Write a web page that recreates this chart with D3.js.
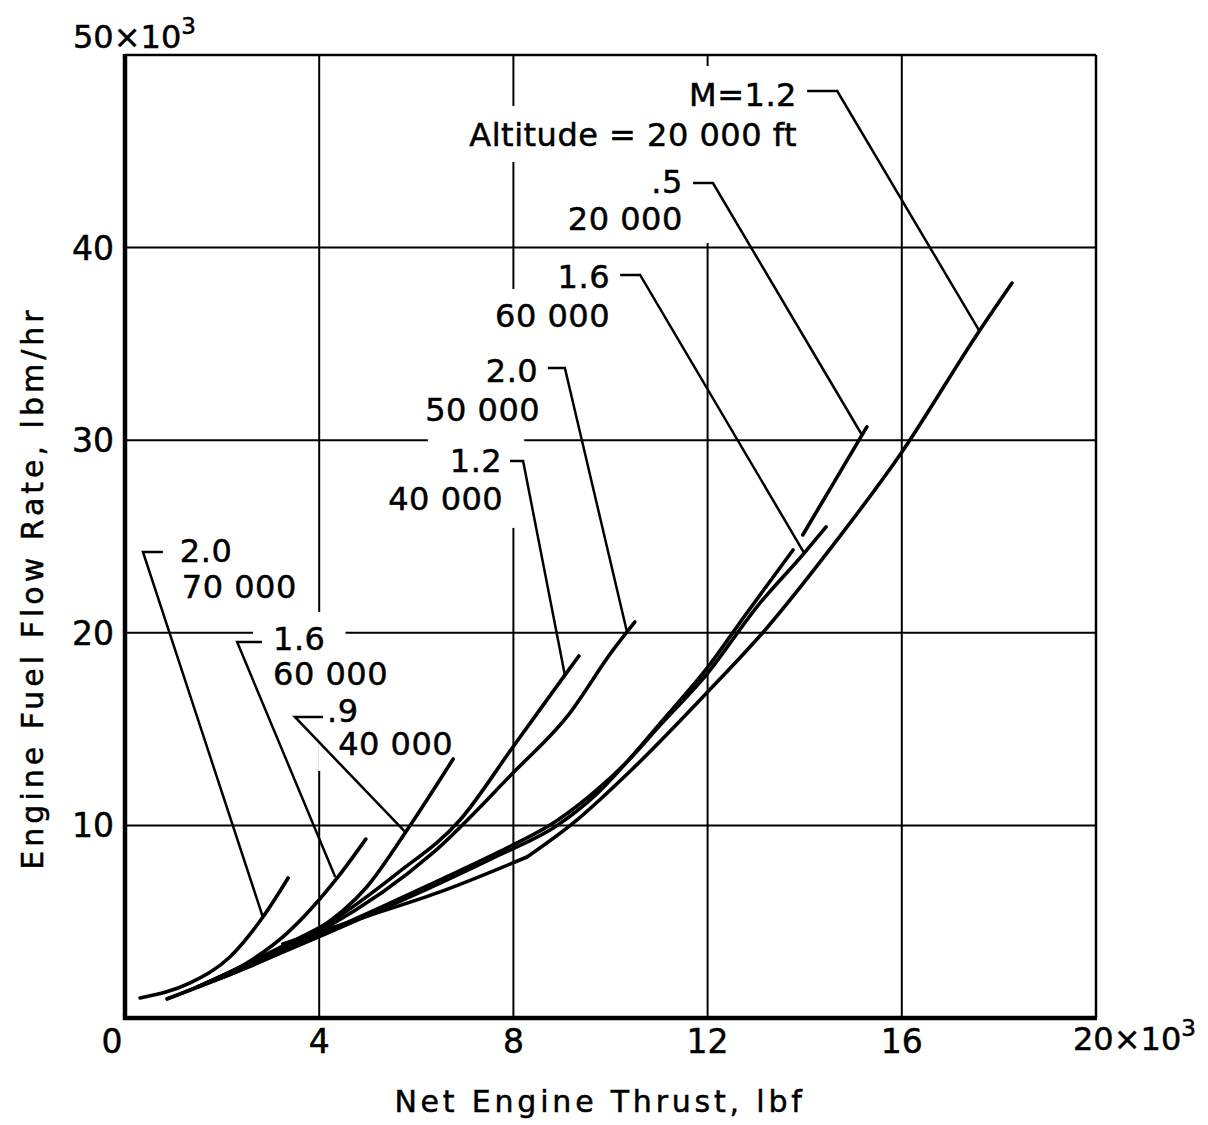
<!DOCTYPE html>
<html>
<head>
<meta charset="utf-8">
<script src="https://cdn.jsdelivr.net/npm/d3@7"></script>
<style>
  body { margin: 0; background: #fff; }
  svg { display: block; font-family: "DejaVu Sans", sans-serif; }
</style>
</head>
<body>
<svg width="1208" height="1125"></svg>
<script>
// thrust in 10^3 lbf, fuel flow in 10^3 lbm/hr
const xTicks = [0, 4, 8, 12, 16];
const yTicks = [10, 20, 30, 40];

// M = 1.2, 20 000 ft: dry part, then the afterburning part from the corner
const m12alt20ThrustDry = [3.25, 5.0, 6.49, 8.28];
const m12alt20FuelDry   = [3.85, 5.3, 6.55, 8.36];
const m12alt20ThrustAb  = [8.28, 9.23, 10.46, 11.99, 13.22, 14.6, 15.96, 17.57, 18.27];
const m12alt20FuelAb    = [8.36, 10.12, 12.95, 16.9, 20.25, 24.6, 29.23, 35.57, 38.16];

const m05alt20ThrustLow  = [0.87, 2.0, 3.0, 4.16, 5.3, 6.49, 7.7, 8.9, 9.7, 10.34, 11.02, 12.0, 12.8, 13.76];
const m05alt20FuelLow    = [0.99, 2.1, 3.15, 4.4, 5.65, 7.0, 8.45, 10.0, 11.6, 13.3, 15.3, 18.2, 21.0, 24.3];
const m05alt20ThrustHigh = [13.96, 14.6, 15.28];
const m05alt20FuelHigh   = [25.08, 27.8, 30.69];

const m16alt60aThrust = [2.0, 3.0, 4.16, 5.3, 6.49, 7.7, 8.9, 9.7, 10.34, 11.02, 12.0, 13.0, 13.99, 14.44];
const m16alt60aFuel   = [2.1, 3.2, 4.48, 5.78, 7.17, 8.62, 10.25, 11.8, 13.3, 15.2, 17.9, 21.3, 24.14, 25.5];

const m20alt50Thrust = [1.5, 2.8, 4.16, 6.34, 7.99, 9.10, 10.05, 10.5];
const m20alt50Fuel   = [1.62, 3.1, 4.72, 8.57, 12.72, 15.63, 19.1, 20.56];

const m12alt40Thrust = [1.5, 2.5, 3.3, 4.28, 5.6, 6.9, 7.99, 9.06, 9.35];
const m12alt40Fuel   = [1.62, 2.8, 3.8, 5.09, 7.5, 10.28, 14.07, 17.8, 18.8];

const m09alt40Thrust = [1.5, 2.5, 3.3, 4.02, 4.98, 5.81, 6.76];
const m09alt40Fuel   = [1.62, 2.6, 3.55, 4.67, 6.8, 9.76, 13.45];

const m16alt60bThrust = [0.87, 1.61, 2.51, 3.34, 4.37, 4.96];
const m16alt60bFuel   = [1.0, 1.75, 2.86, 4.41, 7.27, 9.29];

const m20alt70Thrust = [0.31, 1.34, 2.16, 2.84, 3.36];
const m20alt70Fuel   = [1.04, 1.82, 3.17, 5.24, 7.27];

const curves = [
  [m12alt20ThrustDry, m12alt20FuelDry],
  [m12alt20ThrustAb, m12alt20FuelAb],
  [m05alt20ThrustLow, m05alt20FuelLow],
  [m05alt20ThrustHigh, m05alt20FuelHigh],
  [m16alt60aThrust, m16alt60aFuel],
  [m20alt50Thrust, m20alt50Fuel],
  [m12alt40Thrust, m12alt40Fuel],
  [m09alt40Thrust, m09alt40Fuel],
  [m16alt60bThrust, m16alt60bFuel],
  [m20alt70Thrust, m20alt70Fuel]
];

// curve labels: text lines, anchor, leader (stub + pointer) in data units, mask padding
const labels = [
  { lines: [['M=1.2', 13.84, 47.35], ['Altitude = 20 000 ft', 13.84, 45.28]], anchor: 'end',
    leader: [[14.05, 48.13], [14.67, 48.13], [17.61, 35.62]], pad: 22, padY: [10, 8] },
  { lines: [['.5', 11.49, 42.83], ['20 000', 11.49, 40.91]], anchor: 'end',
    leader: [[11.70, 43.35], [12.11, 43.35], [15.18, 30.27]], pad: 30, padY: [8, 5] },
  { lines: [['1.6', 9.99, 37.90], ['60 000', 9.99, 35.88]], anchor: 'end',
    leader: [[10.20, 38.58], [10.61, 38.58], [13.99, 24.14]], pad: 20, padY: [8, 10] },
  { lines: [['2.0', 8.51, 33.02], ['50 000', 8.55, 31.00]], anchor: 'end',
    leader: [[8.71, 33.75], [9.06, 33.75], [10.34, 20.04]], pad: 20, padY: [8, 8] },
  { lines: [['1.2', 7.77, 28.35], ['40 000', 7.79, 26.38]], anchor: 'end',
    leader: [[7.93, 28.92], [8.20, 28.92], [9.06, 17.81]], pad: 22, padY: [8, 10] },
  { lines: [['2.0', 1.13, 23.68], ['70 000', 1.17, 21.81]], anchor: 'start',
    leader: [[0.78, 24.20], [0.37, 24.20], [2.84, 5.24]], pad: 18, padY: [8, 8] },
  { lines: [['1.6', 3.05, 19.11], ['60 000', 3.05, 17.29]], anchor: 'start',
    leader: [[2.82, 19.52], [2.31, 19.52], [4.33, 7.32]], pad: 20, padY: [8, 8] },
  { lines: [['.9', 4.16, 15.36], ['40 000', 4.39, 13.66]], anchor: 'start',
    leader: [[4.08, 15.63], [3.50, 15.63], [5.77, 9.66]], pad: 20, padY: [8, 8] }
];

const svg = d3.select('svg');
const x = d3.scaleLinear().domain([0, 20]).range([125, 1096]);
const y = d3.scaleLinear().domain([0, 50]).range([1018, 55]);

// Grid
const grid = svg.append('g').attr('stroke', '#000').attr('stroke-width', 2);
grid.selectAll('.vx').data(xTicks.slice(1)).join('line')
  .attr('x1', d => x(d)).attr('x2', d => x(d))
  .attr('y1', y(0)).attr('y2', y(50));
grid.selectAll('.hy').data(yTicks).join('line')
  .attr('y1', d => y(d)).attr('y2', d => y(d))
  .attr('x1', x(0)).attr('x2', x(20));

const maskLayer = svg.append('g');

// Frame
svg.append('line').attr('x1', x(0)).attr('x2', x(20)).attr('y1', y(50)).attr('y2', y(50))
  .attr('stroke', '#000').attr('stroke-width', 2.5);
svg.append('line').attr('x1', x(20)).attr('x2', x(20)).attr('y1', y(50)).attr('y2', y(0))
  .attr('stroke', '#000').attr('stroke-width', 2.5);
svg.append('line').attr('x1', x(0)).attr('x2', x(0)).attr('y1', y(50) - 1).attr('y2', y(0) + 2)
  .attr('stroke', '#000').attr('stroke-width', 4.5);
svg.append('line').attr('x1', x(0) - 2).attr('x2', x(20) + 1).attr('y1', y(0)).attr('y2', y(0))
  .attr('stroke', '#000').attr('stroke-width', 4.5);

const heavy = sel => sel.attr('stroke', '#000').attr('stroke-width', 0.5);

// Tick labels
const tickFont = 33;
svg.selectAll('.xt').data(xTicks).join('text')
  .attr('x', d => d === 0 ? x(0) - 13 : x(d))
  .attr('y', 1053)
  .attr('text-anchor', 'middle')
  .attr('font-size', tickFont)
  .call(heavy)
  .text(d => d);
svg.selectAll('.yt').data(yTicks).join('text')
  .attr('x', x(0) - 11)
  .attr('y', d => y(d) + 12)
  .attr('text-anchor', 'end')
  .attr('font-size', tickFont)
  .call(heavy)
  .text(d => d);

function powerLabel(px, py, base) {
  const t = svg.append('text').attr('x', px).attr('y', py).attr('font-size', 32).call(heavy);
  t.append('tspan').text(base + '×10');
  t.append('tspan').attr('dy', -14).attr('font-size', 23).text('3');
}
powerLabel(x(20) - 23, 1050, '20');
powerLabel(73, 48, '50');

// Axis titles
svg.append('text')
  .attr('x', 600).attr('y', 1112)
  .attr('text-anchor', 'middle')
  .attr('font-size', 30)
  .attr('letter-spacing', 3.8)
  .call(heavy)
  .text('Net Engine Thrust, lbf');
svg.append('text')
  .attr('transform', 'translate(43,588) rotate(-90)')
  .attr('text-anchor', 'middle')
  .attr('font-size', 30)
  .attr('letter-spacing', 4)
  .call(heavy)
  .text('Engine Fuel Flow Rate, lbm/hr');

// Curves
const line = d3.line()
  .x(d => x(d[0]))
  .y(d => y(d[1]))
  .curve(d3.curveMonotoneX);

svg.append('g').selectAll('path')
  .data(curves.map(([tx, fy]) => tx.map((v, i) => [v, fy[i]])))
  .join('path')
  .attr('d', line)
  .attr('fill', 'none')
  .attr('stroke', '#000')
  .attr('stroke-width', 3.6)
  .attr('stroke-linecap', 'round')
  .attr('stroke-linejoin', 'round');

// Leaders
const leaderLine = d3.line().x(d => x(d[0])).y(d => y(d[1]));
svg.append('g').selectAll('path')
  .data(labels)
  .join('path')
  .attr('d', d => leaderLine(d.leader))
  .attr('fill', 'none')
  .attr('stroke', '#000')
  .attr('stroke-width', 2.5);

// Label text with white masks over the grid
labels.forEach(lab => {
  lab.lines.forEach(([txt, lx, ly]) => {
    const t = svg.append('text')
      .attr('x', x(lx)).attr('y', y(ly))
      .attr('text-anchor', lab.anchor)
      .attr('font-size', 32)
      .attr('letter-spacing', 0.5)
      .call(heavy)
      .text(txt);
    const b = t.node().getBBox();
    maskLayer.append('rect')
      .attr('x', b.x - lab.pad).attr('y', b.y - lab.padY[0])
      .attr('width', b.width + 2 * lab.pad).attr('height', b.height + lab.padY[0] + lab.padY[1])
      .attr('fill', '#fff');
  });
});
</script>
</body>
</html>
